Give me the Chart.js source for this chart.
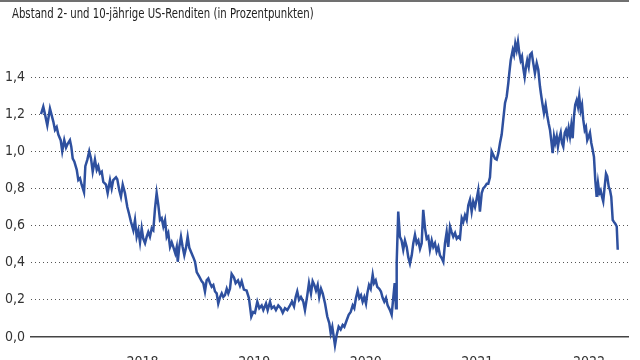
<!DOCTYPE html>
<html>
<head>
<meta charset="utf-8">
<script src="https://cdn.jsdelivr.net/npm/chart.js@4/dist/chart.umd.min.js"></script>
<style>
  html, body { margin: 0; padding: 0; background: #fff; overflow: hidden; }
  #wrap { position: relative; width: 640px; height: 360px; }
  #topline { position: absolute; left: 0; top: 0; width: 629px; height: 2px; background: #707070; }
  #title {
    position: absolute; left: 12px; top: 5px;
    font-family: "Liberation Sans Narrow", "DejaVu Sans Condensed", "Roboto", sans-serif;
    font-size: 14px; color: #222; white-space: nowrap;
    transform: scaleX(0.805); transform-origin: 0 0;
  }
</style>
</head>
<body>
<div id="wrap">
  <div id="topline"></div>
  <div id="title">Abstand 2- und 10-jährige US-Renditen (in Prozentpunkten)</div>
  <canvas id="chart" width="640" height="360"></canvas>
</div>
<script>
// Zeitachse in Jahren (Dezimal)
const dates = [
  2017.090, 2017.110, 2017.125, 2017.146, 2017.170, 2017.185, 2017.200, 2017.215, 2017.230, 2017.245,
  2017.266, 2017.280, 2017.298, 2017.314, 2017.329, 2017.349, 2017.361, 2017.374, 2017.388, 2017.410,
  2017.424, 2017.439, 2017.454, 2017.475, 2017.487, 2017.505, 2017.522, 2017.538, 2017.553, 2017.573,
  2017.589, 2017.603, 2017.618, 2017.634, 2017.648, 2017.672, 2017.687, 2017.708, 2017.723, 2017.737,
  2017.762, 2017.773, 2017.791, 2017.806, 2017.822, 2017.842, 2017.863, 2017.878, 2017.896, 2017.917,
  2017.932, 2017.947, 2017.962, 2017.977, 2017.992, 2018.006, 2018.022, 2018.037, 2018.051, 2018.066,
  2018.082, 2018.096, 2018.111, 2018.126, 2018.141, 2018.156, 2018.171, 2018.186, 2018.201, 2018.216,
  2018.230, 2018.246, 2018.261, 2018.275, 2018.293, 2018.306, 2018.315, 2018.329, 2018.344, 2018.359,
  2018.374, 2018.389, 2018.404, 2018.419, 2018.440, 2018.454, 2018.470, 2018.485, 2018.508, 2018.530,
  2018.544, 2018.559, 2018.574, 2018.589, 2018.604, 2018.619, 2018.634, 2018.649, 2018.664, 2018.678,
  2018.694, 2018.709, 2018.723, 2018.738, 2018.754, 2018.768, 2018.783, 2018.798, 2018.819, 2018.834,
  2018.855, 2018.873, 2018.888, 2018.908, 2018.932, 2018.953, 2018.974, 2018.991, 2019.007, 2019.028,
  2019.046, 2019.067, 2019.082, 2019.106, 2019.121, 2019.142, 2019.157, 2019.178, 2019.195, 2019.216,
  2019.238, 2019.256, 2019.276, 2019.297, 2019.321, 2019.339, 2019.357, 2019.372, 2019.386, 2019.402,
  2019.419, 2019.440, 2019.455, 2019.476, 2019.491, 2019.509, 2019.524, 2019.539, 2019.554, 2019.569,
  2019.583, 2019.599, 2019.614, 2019.635, 2019.655, 2019.673, 2019.686, 2019.700, 2019.715, 2019.724,
  2019.739, 2019.757, 2019.775, 2019.793, 2019.808, 2019.829, 2019.847, 2019.865, 2019.883, 2019.897,
  2019.912, 2019.928, 2019.942, 2019.957, 2019.972, 2019.987, 2020.002, 2020.014, 2020.029, 2020.044,
  2020.062, 2020.074, 2020.089, 2020.103, 2020.121, 2020.136, 2020.152, 2020.166, 2020.181, 2020.196,
  2020.217, 2020.232, 2020.247, 2020.259, 2020.271, 2020.277, 2020.291, 2020.306, 2020.321, 2020.336,
  2020.351, 2020.367, 2020.381, 2020.396, 2020.412, 2020.426, 2020.441, 2020.456, 2020.471, 2020.486,
  2020.501, 2020.515, 2020.531, 2020.546, 2020.560, 2020.575, 2020.591, 2020.605, 2020.620, 2020.635,
  2020.650, 2020.665, 2020.680, 2020.695, 2020.710, 2020.725, 2020.739, 2020.755, 2020.770, 2020.784,
  2020.800, 2020.815, 2020.829, 2020.844, 2020.860, 2020.874, 2020.889, 2020.904, 2020.919, 2020.934,
  2020.949, 2020.963, 2020.979, 2020.994, 2021.008, 2021.023, 2021.039, 2021.053, 2021.068, 2021.084,
  2021.098, 2021.113, 2021.128, 2021.143, 2021.158, 2021.173, 2021.188, 2021.203, 2021.218, 2021.232,
  2021.248, 2021.263, 2021.277, 2021.286, 2021.299, 2021.317, 2021.328, 2021.340, 2021.352, 2021.364,
  2021.376, 2021.388, 2021.400, 2021.412, 2021.424, 2021.436, 2021.447, 2021.460, 2021.472, 2021.487,
  2021.501, 2021.516, 2021.532, 2021.546, 2021.561, 2021.570, 2021.582, 2021.597, 2021.612, 2021.627,
  2021.639, 2021.651, 2021.662, 2021.675, 2021.687, 2021.698, 2021.711, 2021.722, 2021.734, 2021.747,
  2021.758, 2021.770, 2021.783, 2021.794, 2021.806, 2021.818, 2021.830, 2021.842, 2021.854, 2021.866,
  2021.877, 2021.890, 2021.902, 2021.913, 2021.926, 2021.938, 2021.949, 2021.962, 2021.973, 2021.985,
  2021.998, 2022.009, 2022.021, 2022.033, 2022.045, 2022.057, 2022.069, 2022.081, 2022.093, 2022.105,
  2022.117, 2022.128, 2022.141, 2022.153, 2022.164, 2022.177, 2022.189, 2022.200, 2022.213, 2022.224,
  2022.236, 2022.249, 2022.258
];

// Abstand 10J - 2J in Prozentpunkten
const spread = [
  1.20, 1.24, 1.20, 1.14, 1.23, 1.195, 1.16, 1.115, 1.13, 1.09,
  1.06, 1.00, 1.06, 1.02, 1.04, 1.06, 1.025, 0.96, 0.945, 0.90,
  0.845, 0.855, 0.82, 0.78, 0.92, 0.955, 1.00, 0.96, 0.89, 0.955,
  0.90, 0.92, 0.88, 0.89, 0.835, 0.82, 0.775, 0.845, 0.80, 0.845,
  0.86, 0.85, 0.79, 0.755, 0.82, 0.775, 0.70, 0.665, 0.62, 0.575,
  0.63, 0.54, 0.575, 0.51, 0.585, 0.53, 0.505, 0.54, 0.565, 0.54,
  0.585, 0.575, 0.69, 0.775, 0.71, 0.63, 0.64, 0.595, 0.63, 0.54,
  0.56, 0.485, 0.51, 0.485, 0.45, 0.485, 0.405, 0.485, 0.54, 0.485,
  0.44, 0.48, 0.54, 0.48, 0.45, 0.43, 0.405, 0.35, 0.325, 0.30,
  0.29, 0.245, 0.305, 0.315, 0.29, 0.27, 0.28, 0.245, 0.235, 0.18,
  0.215, 0.235, 0.215, 0.225, 0.26, 0.235, 0.26, 0.34, 0.32, 0.29,
  0.305, 0.275, 0.30, 0.255, 0.25, 0.21, 0.11, 0.135, 0.13, 0.19,
  0.155, 0.17, 0.145, 0.18, 0.145, 0.19, 0.155, 0.165, 0.145, 0.17,
  0.155, 0.13, 0.155, 0.145, 0.17, 0.19, 0.165, 0.215, 0.245, 0.20,
  0.215, 0.19, 0.145, 0.225, 0.29, 0.235, 0.30, 0.28, 0.25, 0.28,
  0.215, 0.26, 0.235, 0.18, 0.11, 0.075, 0.02, 0.055, -0.007, -0.045,
  0.01, 0.055, 0.04, 0.065, 0.055, 0.09, 0.12, 0.135, 0.17, 0.155,
  0.21, 0.25, 0.21, 0.225, 0.19, 0.215, 0.18, 0.235, 0.28, 0.26,
  0.335, 0.29, 0.305, 0.27, 0.26, 0.245, 0.21, 0.19, 0.21, 0.17,
  0.145, 0.12, 0.215, 0.29, 0.155, 0.40, 0.675, 0.54, 0.52, 0.47,
  0.52, 0.485, 0.43, 0.395, 0.44, 0.505, 0.55, 0.505, 0.52, 0.475,
  0.505, 0.685, 0.585, 0.53, 0.54, 0.47, 0.52, 0.485, 0.505, 0.46,
  0.485, 0.44, 0.425, 0.405, 0.505, 0.565, 0.485, 0.595, 0.565, 0.54,
  0.56, 0.53, 0.54, 0.53, 0.64, 0.62, 0.655, 0.63, 0.71, 0.74,
  0.675, 0.73, 0.70, 0.745, 0.79, 0.675, 0.775, 0.80, 0.81, 0.825,
  0.825, 0.86, 1.00, 0.98, 0.96, 0.955, 0.99, 1.045, 1.09, 1.17,
  1.26, 1.295, 1.365, 1.42, 1.49, 1.545, 1.52, 1.58, 1.545, 1.59,
  1.53, 1.49, 1.51, 1.445, 1.40, 1.455, 1.49, 1.455, 1.52, 1.53,
  1.475, 1.42, 1.475, 1.44, 1.35, 1.31, 1.26, 1.205, 1.25, 1.19,
  1.15, 1.115, 1.06, 0.99, 1.08, 1.045, 1.08, 1.025, 1.07, 1.10,
  1.045, 1.025, 1.10, 1.115, 1.08, 1.125, 1.08, 1.14, 1.07, 1.19,
  1.25, 1.275, 1.24, 1.295, 1.22, 1.25, 1.17, 1.115, 1.13, 1.06,
  1.08, 1.10, 1.045, 1.01, 0.97, 0.845, 0.755, 0.83, 0.775, 0.79,
  0.755, 0.73, 0.81, 0.88, 0.865, 0.81, 0.79, 0.755, 0.63, 0.62,
  0.61, 0.595, 0.47
];

const yearTicks = [2018, 2019, 2020, 2021, 2022];
const yMin = 0, yMax = 1.4, yStep = 0.2;

const font = { family: '"Liberation Sans Narrow", "DejaVu Sans Condensed", sans-serif', size: 14 };

new Chart(document.getElementById('chart'), {
  type: 'line',
  data: {
    datasets: [{
      data: dates.map((d, i) => ({ x: d, y: spread[i] })),
      borderColor: '#2e509f',
      borderWidth: 2.5,
      pointRadius: 0,
      tension: 0,
      clip: false
    }]
  },
  options: {
    responsive: false,
    animation: false,
    layout: { padding: { top: 77, right: 12, left: 0, bottom: 0 } },
    plugins: { legend: { display: false }, tooltip: { enabled: false } },
    scales: {
      x: {
        type: 'linear',
        min: 2017,
        max: 2022.35,
        afterBuildTicks: s => { s.ticks = yearTicks.map(v => ({ value: v })); },
        afterFit: s => { s.height = 23; },
        grid: { display: false, drawTicks: false },
        border: { display: true, color: '#444', width: 1.5 },
        ticks: { color: '#333', font, padding: 17, maxRotation: 0, callback: v => String(v) }
      },
      y: {
        min: yMin,
        max: yMax,
        afterFit: s => { s.width = 31; },
        grid: {
          drawTicks: false,
          color: c => c.tick && c.tick.value === 0 ? 'rgba(0,0,0,0)' : '#555',
          lineWidth: 1
        },
        border: { display: false, dash: [1, 3] },
        ticks: {
          stepSize: yStep,
          color: '#333',
          font,
          padding: 6,
          callback: v => v.toFixed(1).replace('.', ',')
        }
      }
    }
  }
});
</script>
</body>
</html>
